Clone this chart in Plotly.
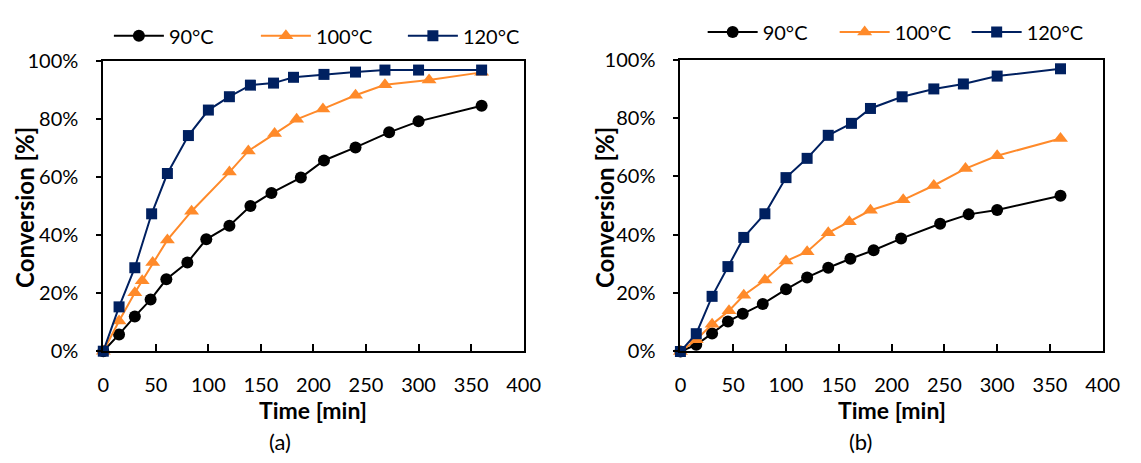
import plotly.graph_objects as go

# ---- (a) ----
t_a_90 = [0, 15, 30, 45, 60, 80, 98, 120, 140, 160, 188, 210, 240, 272, 300, 360]
c_a_90 = [0, 5.8, 12.0, 17.8, 24.8, 30.6, 38.6, 43.3, 50.1, 54.6, 59.9, 65.8, 70.3, 75.5, 79.3, 84.7]

t_a_100 = [0, 15, 30, 37, 47, 61, 84, 120, 138, 163, 184, 209, 240, 268, 310, 360]
c_a_100 = [0, 10.4, 20.2, 24.3, 30.6, 38.4, 48.3, 61.8, 69.1, 75.1, 80.0, 83.6, 88.3, 91.9, 93.6, 96.2]

t_a_120 = [0, 15, 30, 46, 61, 81, 100, 120, 140, 162, 181, 210, 240, 268, 300, 360]
c_a_120 = [0, 15.3, 28.8, 47.4, 61.3, 74.4, 83.2, 87.8, 91.8, 92.5, 94.5, 95.5, 96.3, 97.0, 97.0, 97.0]

# ---- (b) ----
t_b_90 = [0, 15, 30, 45, 59, 78, 100, 120, 140, 161, 183, 209, 246, 273, 300, 360]
c_b_90 = [0, 2.3, 6.2, 10.3, 12.9, 16.3, 21.3, 25.4, 28.7, 31.8, 34.7, 38.7, 43.8, 47.0, 48.5, 53.4]

t_b_100 = [0, 15, 30, 46, 60, 80, 100, 120, 140, 160, 180, 211, 240, 270, 300, 360]
c_b_100 = [0, 4.0, 9.3, 14.0, 19.3, 24.5, 31.0, 34.2, 40.7, 44.5, 48.4, 52.0, 56.9, 62.7, 67.1, 73.0]

t_b_120 = [0, 15, 30, 45, 60, 80, 100, 120, 140, 162, 180, 210, 240, 268, 300, 360]
c_b_120 = [0, 6.1, 18.9, 29.1, 39.1, 47.2, 59.6, 66.2, 74.1, 78.2, 83.3, 87.3, 90.0, 91.7, 94.4, 96.9]

series_names = ["90°C", "100°C", "120°C"]
colors = ["#000000", "#FF8A2A", "#002060"]
symbols = ["circle", "triangle-up", "square"]
sizes = [12, 13, 11]

x_title = "Time [min]"
y_title = "Conversion [%]"
panel_labels = ["(a)", "(b)"]

W, H = 1141, 463
FONT = "Lato"

# plot-area boxes in pixels: (left, right, top, bottom)
boxes = [(99.3, 528.3, 51.0, 356.7), (688.3, 1119.3, 49.3, 357.0)]

panels = [
    ("x", "y", "legend", [(t_a_90, c_a_90), (t_a_100, c_a_100), (t_a_120, c_a_120)]),
    ("x2", "y2", "legend2", [(t_b_90, c_b_90), (t_b_100, c_b_100), (t_b_120, c_b_120)]),
]

fig = go.Figure()
for xa, ya, leg, data in panels:
    for (t, c), name, col, sym, sz in zip(data, series_names, colors, symbols, sizes):
        fig.add_trace(go.Scatter(
            x=t, y=[v / 100 for v in c], name=name, xaxis=xa, yaxis=ya, legend=leg,
            mode="lines+markers", cliponaxis=False,
            line=dict(color=col, width=2),
            marker=dict(symbol=sym, size=sz, color=col),
        ))

axis_common = dict(
    showline=True, linecolor="black", linewidth=2, mirror=True,
    showgrid=False, zeroline=False,
    tickfont=dict(family=FONT, size=20, color="black"),
)
xaxis_common = dict(axis_common, range=[0, 400], dtick=50, ticks="inside", ticklen=7,
                    tickcolor="black", tickwidth=2, ticklabelstandoff=15)
yaxis_common = dict(axis_common, range=[0, 1], dtick=0.2, tickformat=".0%", ticks="outside",
                    ticklen=5, tickcolor="black", tickwidth=2, ticklabelstandoff=14)

legend_common = dict(orientation="h", xanchor="left", yanchor="middle",
                     font=dict(family=FONT, size=20, color="black"),
                     itemwidth=50, entrywidthmode="pixels",
                     bgcolor="rgba(0,0,0,0)", traceorder="normal")


def px_x(v):
    return v / W


def px_y(v):
    return 1 - v / H


(l1, r1, t1, b1), (l2, r2, t2, b2) = boxes
annotations = []
for (l, r, t, b), lab, ytx, labx in zip(boxes, panel_labels, [19, 611], [280, 872]):
    cx = (l + r) / 2
    annotations.append(dict(text=f"<b>{x_title}</b>", x=px_x(cx), y=px_y(419),
                            xref="paper", yref="paper", showarrow=False,
                            xanchor="center", yanchor="middle",
                            font=dict(family=FONT, size=23, color="black")))
    annotations.append(dict(text=f"<b>{y_title}</b>", x=px_x(ytx), y=px_y(205),
                            xref="paper", yref="paper", showarrow=False, textangle=-90,
                            xanchor="center", yanchor="middle",
                            font=dict(family=FONT, size=24, color="black")))
    annotations.append(dict(text=lab, x=px_x(labx), y=px_y(452),
                            xref="paper", yref="paper", showarrow=False,
                            xanchor="center", yanchor="middle",
                            font=dict(family=FONT, size=22, color="black")))

fig.update_layout(
    width=W, height=H,
    margin=dict(l=0, r=0, t=0, b=0),
    paper_bgcolor="white", plot_bgcolor="white",
    showlegend=True,
    xaxis=dict(xaxis_common, domain=[px_x(l1), px_x(r1)], anchor="y"),
    yaxis=dict(yaxis_common, domain=[px_y(b1), px_y(t1)], anchor="x"),
    xaxis2=dict(xaxis_common, domain=[px_x(l2), px_x(r2)], anchor="y2"),
    yaxis2=dict(yaxis_common, domain=[px_y(b2), px_y(t2)], anchor="x2"),
    legend=dict(legend_common, x=px_x(105), y=px_y(24), entrywidth=82),
    legend2=dict(legend_common, x=px_x(711), y=px_y(20), entrywidth=67),
    annotations=annotations,
)

fig.write_html("out.html")
